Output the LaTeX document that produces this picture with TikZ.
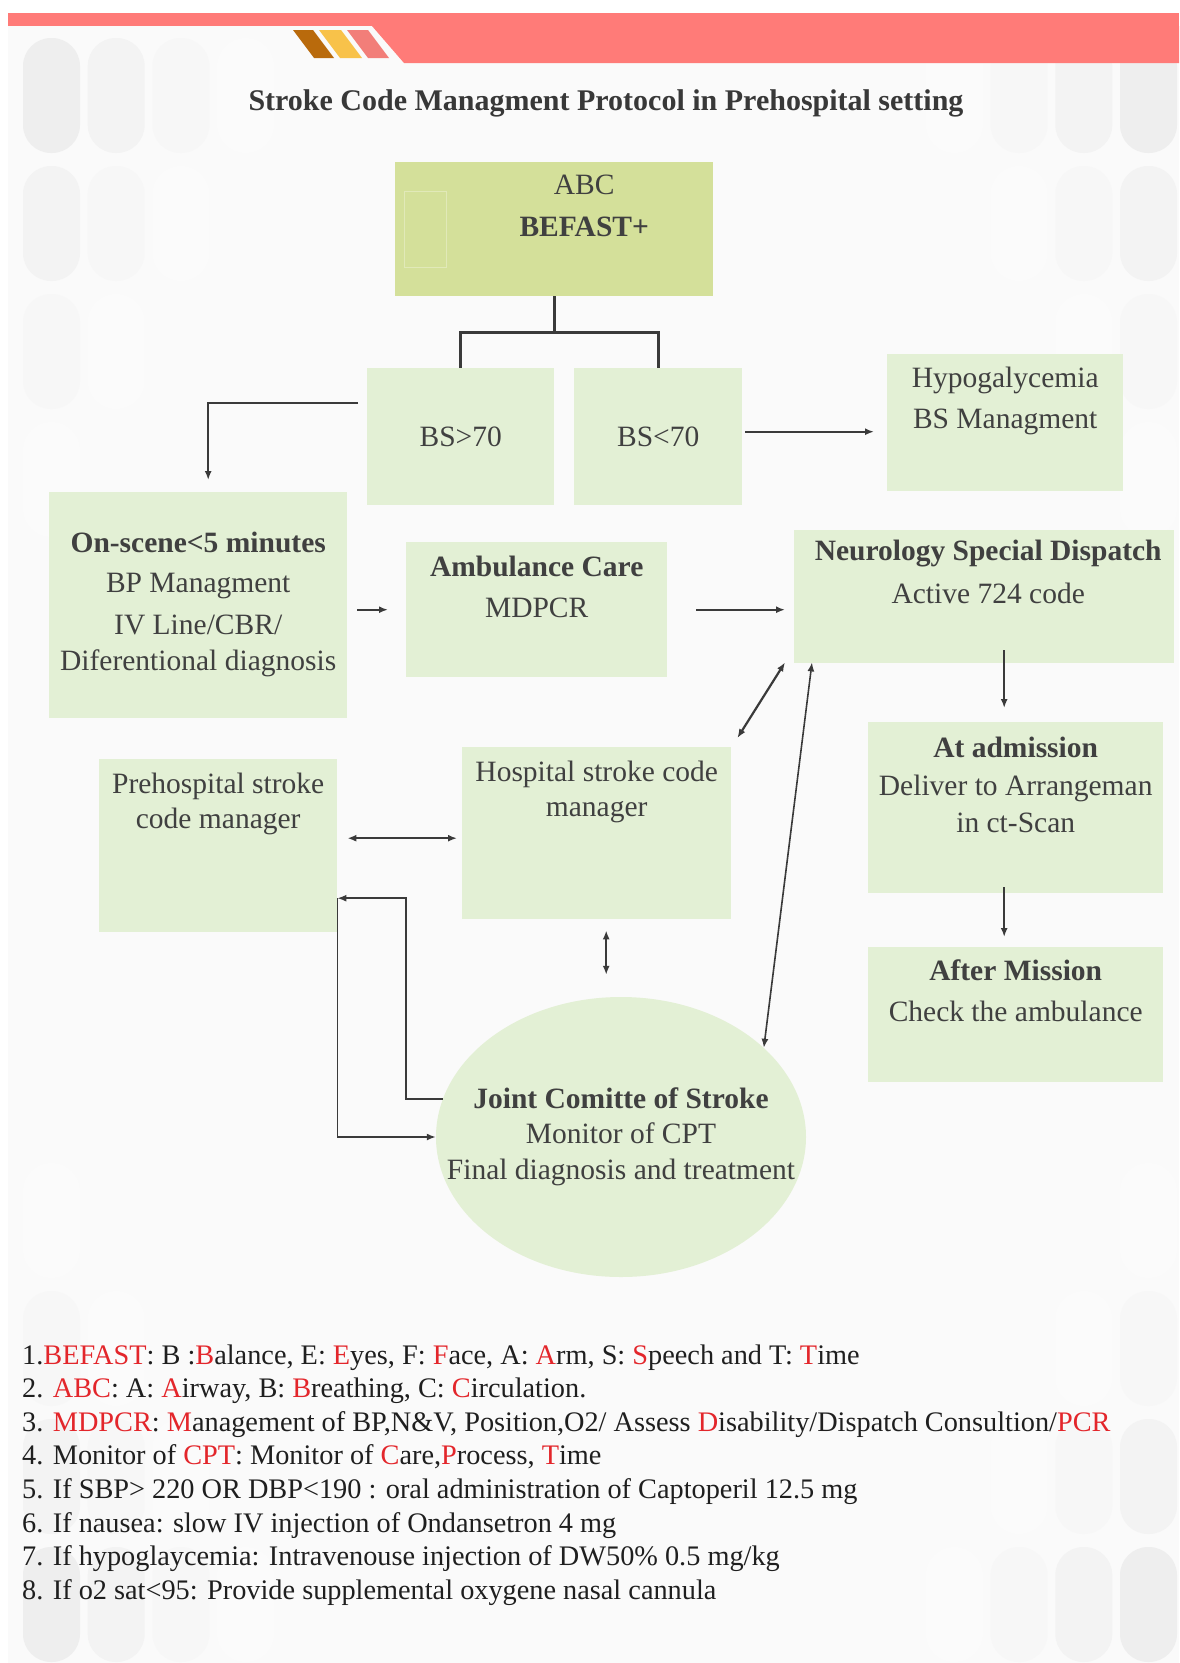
\documentclass[tikz,border=0pt]{standalone}
\usepackage{fontspec}
\setmainfont{Liberation Serif}
\usetikzlibrary{positioning,arrows.meta,shapes.geometric}

\definecolor{bggray}{HTML}{FAFAFA}
\definecolor{bannerred}{HTML}{FF7B78}
\definecolor{stripebrown}{HTML}{B96A0C}
\definecolor{stripeyellow}{HTML}{F8C24A}
\definecolor{stripepink}{HTML}{F27E79}
\definecolor{boxgreen}{HTML}{E3F0D5}
\definecolor{limegreen}{HTML}{D4E09A}
\definecolor{inktext}{HTML}{404040}
\definecolor{linegray}{HTML}{3A3A3A}
\definecolor{hlred}{HTML}{E3262B}

\newcommand{\hl}[1]{\textcolor{hlred}{#1}}

\tikzset{
  box/.style={fill=boxgreen, inner sep=0pt, anchor=north west},
  txt/.style={align=center, inner sep=0pt, text=inktext, font=\fontsize{29.5}{34}\selectfont},
  link/.style={draw=linegray, line width=2.2pt, -{Latex[length=9pt,width=7pt]}},
  dlink/.style={link, {Latex[length=9pt,width=7pt]}-{Latex[length=9pt,width=7pt]}},
  slim/.style={line width=1.6pt},
  forkline/.style={draw=linegray, line width=3pt},
  pill/.style={rounded corners=28pt},
  note/.style={anchor=base west, inner sep=0pt, text=black!88, font=\fontsize{28.3}{34}\selectfont},
}

\begin{document}
\begin{tikzpicture}[x=1pt,y=-1pt]
  \useasboundingbox (0,0) rectangle (1179,1663);
  % page background
  \fill[white] (0,0) rectangle (1179,1663);
  \fill[bggray] (8,13) rectangle (1179,1663);
  % faded pills in the corners
  \foreach \r in {0,...,3}
    \foreach \c in {0,...,3}{
      \pgfmathtruncatemacro{\k}{\r+\c}
      \ifnum\k<4
        \pgfmathsetmacro{\shd}{6.5-1.6*\k}
        \fill[pill, black!\shd] (23+64.7*\c,38+128*\r) rectangle ++(57,115);
        \fill[pill, black!\shd] (1120-64.7*\c,38+128*\r) rectangle ++(57,115);
        \fill[pill, black!\shd] (23+64.7*\c,1547-128*\r) rectangle ++(57,115);
        \fill[pill, black!\shd] (1120-64.7*\c,1547-128*\r) rectangle ++(57,115);
      \fi
    }
  % banner
  \fill[bannerred] (8,13) rectangle (1179,26);
  \fill[bannerred] (372,26) -- (1179,26) -- (1179,63) -- (404,63) -- cycle;
  \fill[stripebrown] (293,30) -- (313,30) -- (334,58) -- (314,58) -- cycle;
  \fill[stripeyellow] (319,30) -- (341,30) -- (362,58) -- (340,58) -- cycle;
  \fill[stripepink] (347,30) -- (368,30) -- (389,58) -- (368,58) -- cycle;

  \node[txt, font=\fontsize{30}{36}\selectfont\bfseries, text=black!78, anchor=base] (title) at (606,110)
    {Stroke Code Managment Protocol in Prehospital setting};

  % boxes
  \node[box, fill=limegreen, minimum width=318pt, minimum height=134pt] (abc) at (395,162) {};
  \draw[white!30!limegreen, line width=0.8pt] (404,191) rectangle (446,267);
  \node[txt, below=13pt of abc.north, xshift=30pt] (abc-t) {ABC\\[8pt]\bfseries BEFAST+};

  \node[box, txt, minimum width=187pt, minimum height=137pt] (bsg) at (367,368) {BS>70};
  \node[box, txt, minimum width=168pt, minimum height=137pt] (bsl) at (574,368) {BS<70};

  \node[box, minimum width=236pt, minimum height=137pt] (hypo) at (887,354) {};
  \node[txt, below=13pt of hypo.north] (hypo-t) {Hypogalycemia\\[7pt]BS Managment};

  \node[box, minimum width=298pt, minimum height=226pt] (onscene) at (49,492) {};
  \node[txt, below=40pt of onscene.north] (onscene-t)
    {\textbf{On-scene<5 minutes}\\[6pt]BP Managment\\[8pt]IV Line/CBR/\\[2pt]Diferentional diagnosis};

  \node[box, minimum width=261pt, minimum height=135pt] (amb) at (406,542) {};
  \node[txt, below=14pt of amb.north] (amb-t) {\textbf{Ambulance Care}\\[7pt]MDPCR};

  \node[box, minimum width=380pt, minimum height=133pt] (neuro) at (794,530) {};
  \node[txt, below=10pt of neuro.north, xshift=4pt] (neuro-t)
    {\textbf{Neurology Special Dispatch}\\[9pt]Active 724 code};

  \node[box, minimum width=295pt, minimum height=171pt] (adm) at (868,722) {};
  \node[txt, below=15pt of adm.north] (adm-t)
    {\textbf{At admission}\\[4pt]Deliver to Arrangeman\\[3pt]in ct-Scan};

  \node[box, minimum width=295pt, minimum height=135pt] (after) at (868,947) {};
  \node[txt, below=13pt of after.north] (after-t) {\textbf{After Mission}\\[7pt]Check the ambulance};

  \node[box, minimum width=269pt, minimum height=172pt] (hosp) at (462,747) {};
  \node[txt, below=14pt of hosp.north] (hosp-t) {Hospital stroke code\\[1pt]manager};

  \node[box, minimum width=238pt, minimum height=173pt] (pre) at (99,759) {};
  \node[txt, below=14pt of pre.north] (pre-t) {Prehospital stroke\\[1pt]code manager};

  \node[ellipse, fill=boxgreen, inner sep=0pt, minimum width=370pt, minimum height=280pt] (joint) at (621,1137) {};
  \node[txt] (joint-t) at (joint.center)
    {\textbf{Joint Comitte of Stroke}\\[1pt]Monitor of CPT\\[2pt]Final diagnosis and treatment};

  % connectors
  \draw[forkline] (abc.south) -- ++(0,36) coordinate (fork) -| (bsg.north);
  \draw[forkline] (fork) -| (bsl.north);
  \draw[link, shorten <=9pt, shorten >=12pt] ([yshift=34pt]bsg.west) -| ([xshift=10pt]onscene.north);
  \draw[link, shorten <=3pt, shorten >=13pt] ([yshift=5pt]bsl.east) -- ([yshift=5pt]bsl.east -| hypo.west);
  \draw[link, shorten <=10pt, shorten >=18pt] (amb.west -| onscene.east) -- (amb.west);
  \draw[link, shorten <=29pt, shorten >=9pt] (amb.east) -- (amb.east -| neuro.west);
  \draw[link, shorten <=-13pt, shorten >=14pt] ([xshift=-11.5pt]adm.north |- neuro.south) -- ([xshift=-11.5pt]adm.north);
  \draw[link, shorten <=-6pt, shorten >=10pt] ([xshift=-11.5pt]adm.south) -- ([xshift=-11.5pt]adm.south |- after.north);
  \draw[dlink, shorten <=10pt, shorten >=5pt] ([yshift=-5pt]hosp.west -| pre.east) -- ([yshift=-5pt]hosp.west);
  \draw[dlink] ([xshift=6pt,yshift=9pt]hosp.north east) -- ([xshift=-9pt,yshift=1pt]neuro.south west);
  \draw[dlink, slim] (joint.32) -- ([xshift=18pt,yshift=1pt]neuro.south west);
  \draw[dlink, shorten <=11pt, shorten >=22pt] ([xshift=9.5pt]hosp.south) -- ([xshift=9.5pt]hosp.south |- joint.north);
  \coordinate (loop) at ([yshift=-52.5pt]pre.east);
  \draw[link, slim] (joint.168) -- ++(-37,0) |- (loop);
  \draw[link, slim] (loop) |- (joint.west);

  % notes
  \foreach \entry [count=\i from 0] in {
    {1.\hl{BEFAST}: B :\hl{B}alance, E: \hl{E}yes, F: \hl{F}ace, A: \hl{A}rm, S: \hl{S}peech and T: \hl{T}ime},
    {2. \hl{ABC}: A: \hl{A}irway, B: \hl{B}reathing, C: \hl{C}irculation.},
    {3. \hl{MDPCR}: \hl{M}anagement of BP,N\&V, Position,O2/ Assess \hl{D}isability/Dispatch Consultion/\hl{PCR}},
    {4. Monitor of \hl{CPT}: Monitor of \hl{C}are,\hl{P}rocess, \hl{T}ime},
    {5. If SBP> 220 OR DBP<190 : oral administration of Captoperil 12.5 mg},
    {6. If nausea: slow IV injection of Ondansetron 4 mg},
    {7. If hypoglaycemia: Intravenouse injection of DW50\% 0.5 mg/kg},
    {8. If o2 sat<95: Provide supplemental oxygene nasal cannula}}
    \node[note] (note\i) at (22,1364+33.6*\i) {\entry};
\end{tikzpicture}
\end{document}
